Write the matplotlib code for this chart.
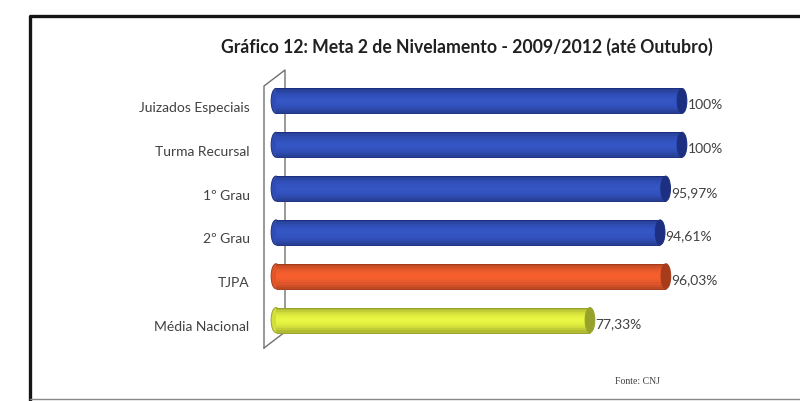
import matplotlib
matplotlib.use("Agg")
import matplotlib.pyplot as plt
import matplotlib.transforms as mtransforms
from matplotlib.colors import to_rgb
from matplotlib.lines import Line2D
from matplotlib.patches import Ellipse
import numpy as np

categories = ["Juizados Especiais", "Turma Recursal", "1º Grau", "2º Grau", "TJPA", "Média Nacional"]
values = [100, 100, 95.97, 94.61, 96.03, 77.33]
value_labels = ["100%", "100%", "95,97%", "94,61%", "96,03%", "77,33%"]
colors = ["#2f4db3", "#2f4db3", "#2f4db3", "#2f4db3", "#e0562a", "#d3df3c"]
dark = ["#1c2f80", "#1c2f80", "#1c2f80", "#1c2f80", "#a63c1a", "#97a22a"]

W, H = 800, 401
fig = plt.figure(figsize=(8, 4.01), dpi=100, facecolor="white")
ax = fig.add_axes([276 / W, (H - 342) / H, 406 / W, 263 / H])

n = len(categories)
y = np.arange(n)[::-1]
bh = 0.57

# cylinder look: stack thin slices shaded from light (top) to dark (bottom)
ns = 12
for k in range(ns):
    t = (k + 0.5) / ns
    shade = 0.55 + 0.55 * np.sin(np.pi * (0.15 + 0.7 * t))
    cols = [tuple(np.clip(np.array(to_rgb(c)) * shade, 0, 1)) for c in colors]
    ax.barh(y - bh / 2 + bh * k / ns, values, height=bh / ns, align="edge",
            color=cols, linewidth=0, zorder=3)
ax.hlines(y + bh / 2, 0, values, colors=dark, lw=0.7, zorder=4)
ax.hlines(y - bh / 2, 0, values, colors=dark, lw=0.7, zorder=4)
for yi, v, c, d in zip(y, values, colors, dark):
    ax.add_patch(Ellipse((0, yi), 2.4, bh, facecolor=c, edgecolor=d, lw=0.7,
                         zorder=2.9, clip_on=False))
    ax.add_patch(Ellipse((v, yi), 2.4, bh, facecolor=d, edgecolor=d, lw=0.7,
                         zorder=5, clip_on=False))

for yi, v, lab in zip(y, values, value_labels):
    ax.annotate(lab, (v, yi), xytext=(4, -3), textcoords="offset points",
                ha="left", va="center", fontsize=10, color="#404040", family="Lato")

ax.set_xlim(0, 100)
ax.set_ylim(-0.5, n - 0.5)
ax.set_yticks(y)
ax.set_yticklabels(categories, fontsize=10, color="#404040", family="Lato")
ax.tick_params(axis="y", length=0, pad=19)
ax.tick_params(axis="x", length=0, labelbottom=False)
off = mtransforms.ScaledTranslation(0, -6 / 100, fig.dpi_scale_trans)
for lbl in ax.get_yticklabels():
    lbl.set_transform(lbl.get_transform() + off)
for s in ax.spines.values():
    s.set_visible(False)
ax.patch.set_visible(False)

# back wall of the 3D chart
def px(xs, ys):
    return [x / W for x in xs], [1 - v / H for v in ys]

wall = [([264, 264, 285, 285], [348, 86, 70, 332]),
        ([264, 285], [348, 332])]
for xs, ys in wall:
    fx, fy = px(xs, ys)
    ax.plot(fx, fy, color="#707070", lw=1.0, transform=fig.transFigure,
            clip_on=False, zorder=1)

# outer frame
fx, fy = px([30, 30, 800], [401, 16, 16])
fig.add_artist(Line2D(fx, fy, color="#151515", lw=2.4))
fx, fy = px([30, 800], [399, 399])
fig.add_artist(Line2D(fx, fy, color="#888888", lw=1.0))

fig.text(467 / W, 1 - 47 / H, "Gráfico 12: Meta 2 de Nivelamento - 2009/2012 (até Outubro)",
         ha="center", va="center", fontsize=12.7, fontweight="bold", color="#202020", family="Lato")
fig.text(615 / W, 1 - 381 / H, "Fonte: CNJ", ha="left", va="center",
         fontsize=7, color="#404040", family="Liberation Serif")

fig.savefig("out.png", dpi=100, facecolor="white")
